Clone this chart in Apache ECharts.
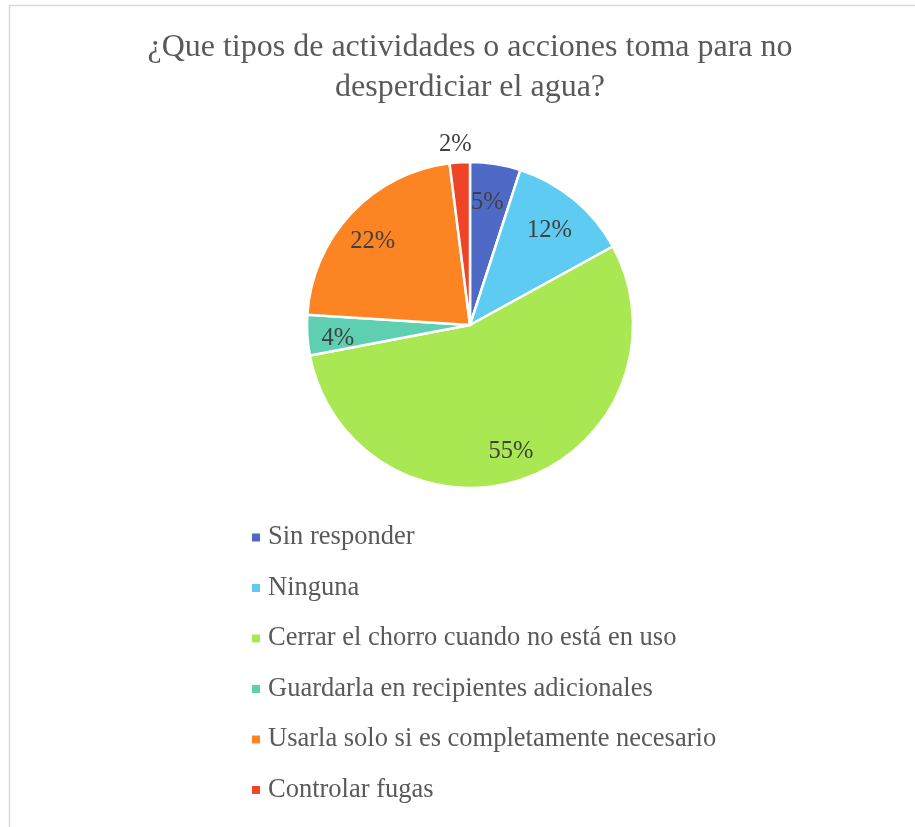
<!DOCTYPE html>
<html>
<head>
<meta charset="utf-8">
<script src="https://cdn.jsdelivr.net/npm/echarts@6/dist/echarts.min.js"></script>
<style>
  html, body { margin: 0; padding: 0; background: #fff; }
  #chart { width: 915px; height: 827px; }
</style>
</head>
<body>
<div id="chart"></div>
<script>
const titleText = "¿Que tipos de actividades o acciones toma para no\ndesperdiciar el agua?";
const categories = [
  "Sin responder",
  "Ninguna",
  "Cerrar el chorro cuando no está en uso",
  "Guardarla en recipientes adicionales",
  "Usarla solo si es completamente necesario",
  "Controlar fugas"
];
const values = [5, 12, 55, 4, 22, 2];
const colors = ["#4F69C6", "#5DCBF2", "#A9E852", "#5ECFB0", "#FD8422", "#F04428"];
// slices whose label sits outside the pie
const outsideLabel = [false, false, false, false, false, true];

const font = "'Times New Roman', 'Liberation Serif', serif";
const center = [470, 325];
const R = 163;

const chart = echarts.init(document.getElementById("chart"));

const baseData = categories.map((name, i) => ({ name, value: values[i] }));

const labelStyle = {
  position: "inside",
  formatter: "{d}%",
  fontFamily: font,
  fontSize: 24.5,
  color: "#404040",
  offset: [-3, 5]
};

const option = {
  animation: false,
  color: colors,
  legend: {
    orient: "vertical",
    left: 245,
    top: 519,
    itemWidth: 10,
    itemHeight: 10,
    itemGap: 23.5,
    icon: "rect",
    selectedMode: false,
    data: categories,
    textStyle: {
      fontFamily: font,
      fontSize: 26.5,
      color: "#595959",
      padding: [0, 0, 0, 2]
    }
  },
  graphic: [
    {
      type: "rect",
      shape: { x: 9.5, y: 5.5, width: 1000, height: 1000 },
      style: { fill: "none", stroke: "#d9d9d9", lineWidth: 1.5 },
      silent: true
    },
    {
      type: "text",
      x: 470,
      y: 28,
      silent: true,
      style: {
        text: titleText,
        fontFamily: font,
        fontSize: 32,
        lineHeight: 40,
        fill: "#595959",
        align: "center",
        verticalAlign: "top"
      }
    }
  ],
  series: [
    {
      type: "pie",
      center: center,
      radius: [0, R],
      startAngle: 90,
      clockwise: true,
      silent: true,
      label: { show: false },
      labelLine: { show: false },
      itemStyle: { borderColor: "#fff", borderWidth: 2.5 },
      data: baseData.map((d, i) => ({ ...d, itemStyle: { color: colors[i] } }))
    },
    {
      // inside labels
      type: "pie",
      center: center,
      radius: [90, R],
      startAngle: 90,
      clockwise: true,
      silent: true,
      itemStyle: { color: "transparent" },
      labelLine: { show: false },
      label: labelStyle,
      data: baseData.map((d, i) => ({ ...d, label: { show: !outsideLabel[i] } }))
    },
    {
      // outside labels
      type: "pie",
      center: center,
      radius: [166, 200],
      startAngle: 90,
      clockwise: true,
      silent: true,
      itemStyle: { color: "transparent" },
      labelLine: { show: false },
      label: labelStyle,
      data: baseData.map((d, i) => ({ ...d, label: { show: outsideLabel[i] } }))
    }
  ]
};

chart.setOption(option);
</script>
</body>
</html>
